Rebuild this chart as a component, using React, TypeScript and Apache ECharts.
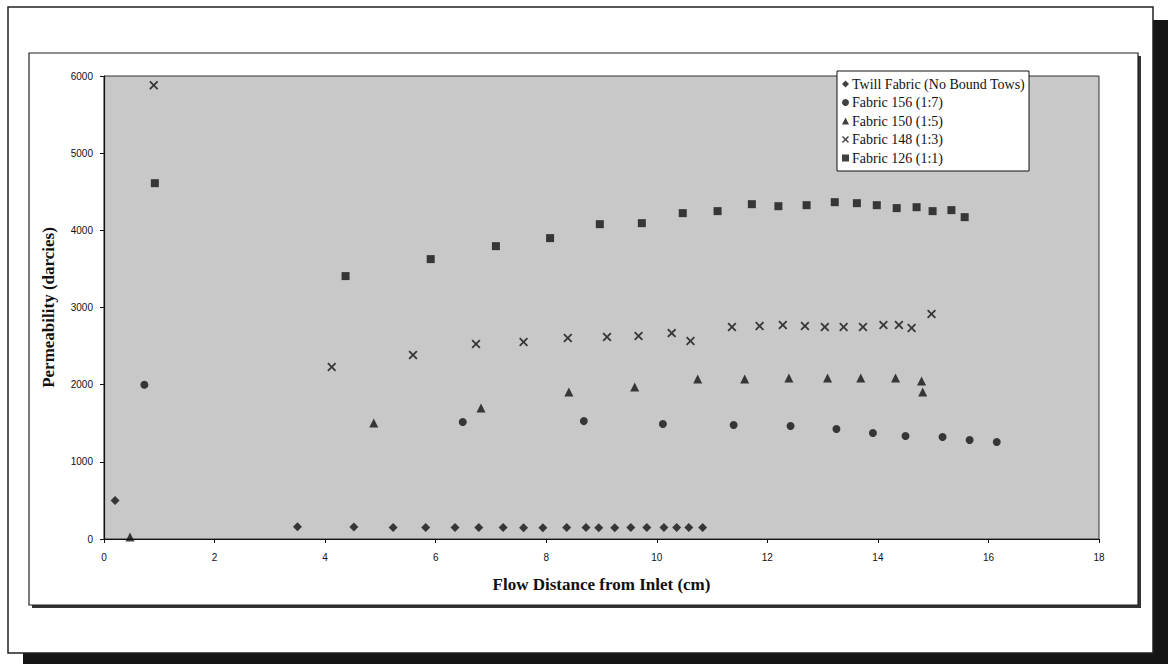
import React, { useEffect, useRef } from "react";
import * as echarts from "echarts";

const seriesNames = [
  "Twill Fabric (No Bound Tows)",
  "Fabric 156 (1:7)",
  "Fabric 150 (1:5)",
  "Fabric 148 (1:3)",
  "Fabric 126 (1:1)",
];

const twill: number[][] = [
  [0.2, 500], [3.5, 160], [4.52, 155], [5.23, 150], [5.82, 150], [6.35, 150],
  [6.78, 148], [7.22, 148], [7.59, 145], [7.94, 145], [8.37, 150], [8.72, 148],
  [8.95, 145], [9.24, 145], [9.53, 148], [9.82, 148], [10.13, 150], [10.36, 150],
  [10.58, 150], [10.83, 150],
];

const fabric156: number[][] = [
  [0.73, 2000], [6.49, 1516], [8.68, 1528], [10.11, 1490], [11.39, 1477],
  [12.42, 1464], [13.25, 1425], [13.91, 1373], [14.5, 1334], [15.17, 1321],
  [15.66, 1282], [16.15, 1256],
];

const fabric150: number[][] = [
  [0.47, 25], [4.88, 1503], [6.82, 1697], [8.41, 1904], [9.6, 1969],
  [10.74, 2073], [11.59, 2073], [12.39, 2085], [13.09, 2085], [13.69, 2085],
  [14.32, 2085], [14.79, 2047], [14.81, 1904],
];

const fabric148: number[][] = [
  [0.9, 5881], [4.12, 2228], [5.59, 2383], [6.73, 2526], [7.59, 2552],
  [8.39, 2604], [9.1, 2617], [9.67, 2630], [10.27, 2668], [10.61, 2565],
  [11.36, 2746], [11.86, 2759], [12.28, 2772], [12.68, 2759], [13.04, 2746],
  [13.38, 2746], [13.73, 2746], [14.1, 2772], [14.38, 2772], [14.61, 2733],
  [14.97, 2915],
];

const fabric126: number[][] = [
  [0.92, 4611], [4.37, 3407], [5.91, 3627], [7.09, 3795], [8.07, 3899],
  [8.97, 4080], [9.73, 4093], [10.47, 4223], [11.1, 4249], [11.72, 4339],
  [12.2, 4313], [12.71, 4326], [13.22, 4365], [13.62, 4352], [13.98, 4326],
  [14.34, 4288], [14.7, 4300], [14.99, 4249], [15.33, 4262], [15.57, 4171],
];

const xAxisTitle = "Flow Distance from Inlet (cm)";
const yAxisTitle = "Permeability (darcies)";

const X_SYMBOL =
  "path://M0,1.4L1.4,0L5,3.6L8.6,0L10,1.4L6.4,5L10,8.6L8.6,10L5,6.4L1.4,10L0,8.6L3.6,5Z";

export default function App() {
  const ref = useRef<HTMLDivElement>(null);

  useEffect(() => {
    if (!ref.current) return;
    const chart = echarts.init(ref.current, undefined, { renderer: "svg" });
    const serif = "'Liberation Serif', 'Times New Roman', serif";
    const sans = "'Liberation Sans', Arial, sans-serif";
    const mk = (name: string, data: number[][], symbol: string, size: number) => ({
      name,
      type: "scatter",
      data,
      symbol,
      symbolSize: size,
      itemStyle: { color: "#111" },
      z: 5,
    });
    chart.setOption({
      animation: false,
      backgroundColor: "#ffffff",
      graphic: [
        { type: "rect", z: -10, shape: { x: 23, y: 20, width: 1145, height: 648 }, style: { fill: "#151515" } },
        { type: "rect", z: -9, shape: { x: 8, y: 7, width: 1145, height: 646 }, style: { fill: "#fff", stroke: "#222", lineWidth: 1.5 } },
        { type: "rect", z: -8, shape: { x: 32, y: 56, width: 1109, height: 552 }, style: { fill: "#333" } },
        { type: "rect", z: -7, shape: { x: 29, y: 53, width: 1109, height: 552 }, style: { fill: "#fff", stroke: "#222", lineWidth: 1.2 } },
      ],
      grid: {
        left: 104,
        top: 76,
        right: 73,
        bottom: 125,
        show: true,
        backgroundColor: "#c8c8c8",
        borderColor: "#333",
        borderWidth: 1,
      },
      legend: {
        orient: "vertical",
        left: 837,
        top: 71,
        backgroundColor: "#ffffff",
        borderColor: "#111",
        borderWidth: 1,
        padding: [6, 4, 6, 5],
        itemWidth: 7,
        itemHeight: 7,
        itemGap: 4.5,
        textStyle: { fontFamily: serif, fontSize: 14, color: "#111", padding: [0, 0, 0, -2] },
        data: seriesNames,
      },
      xAxis: {
        type: "value",
        min: 0,
        max: 18,
        interval: 2,
        name: xAxisTitle,
        nameLocation: "middle",
        nameGap: 37,
        nameTextStyle: { fontFamily: serif, fontSize: 17, fontWeight: "bold", color: "#111" },
        axisLine: { show: true, lineStyle: { color: "#111", width: 1.2 } },
        axisTick: { show: true, length: 4, lineStyle: { color: "#111" } },
        axisLabel: { fontFamily: sans, fontSize: 10, color: "#111", margin: 13 },
        splitLine: { show: false },
      },
      yAxis: {
        type: "value",
        min: 0,
        max: 6000,
        interval: 1000,
        name: yAxisTitle,
        nameLocation: "middle",
        nameGap: 47,
        nameTextStyle: { fontFamily: serif, fontSize: 17, fontWeight: "bold", color: "#111" },
        axisLine: { show: true, lineStyle: { color: "#111", width: 1.2 } },
        axisTick: { show: true, length: 4, lineStyle: { color: "#111" } },
        axisLabel: { fontFamily: sans, fontSize: 10, color: "#111", margin: 11, formatter: (v: number) => String(v) },
        splitLine: { show: false },
      },
      series: [
        mk(seriesNames[0], twill, "diamond", 9),
        mk(seriesNames[1], fabric156, "circle", 8),
        mk(seriesNames[2], fabric150, "triangle", 9),
        mk(seriesNames[3], fabric148, X_SYMBOL, 9),
        mk(seriesNames[4], fabric126, "rect", 8),
      ],
    });
    return () => chart.dispose();
  }, []);

  return (
    <div
      ref={ref}
      style={{ position: "fixed", left: 0, top: 0, width: 1172, height: 664 }}
    />
  );
}
